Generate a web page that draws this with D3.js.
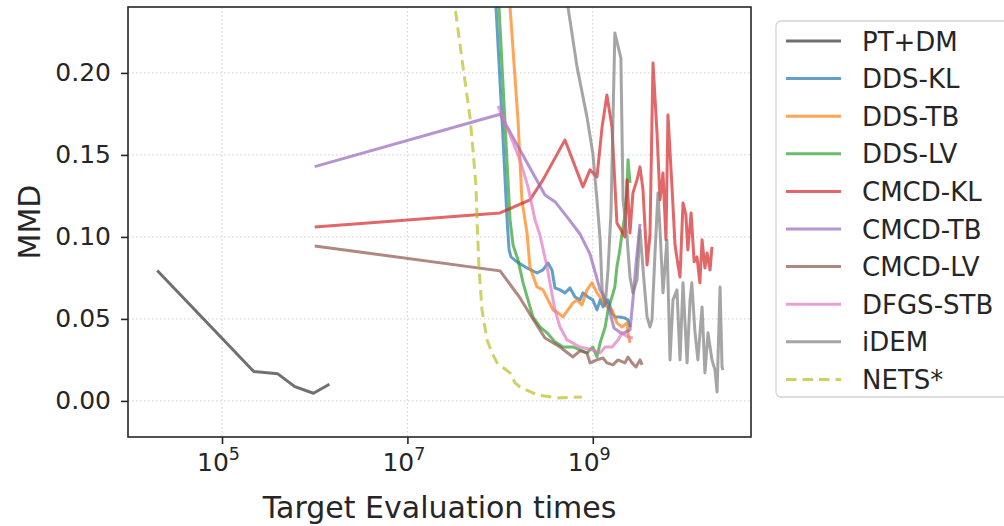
<!DOCTYPE html>
<html><head><meta charset="utf-8">
<script src="https://cdn.jsdelivr.net/npm/d3@7"></script>
<style>
html,body{margin:0;padding:0;background:#fff;}
text{font-family:"DejaVu Sans",sans-serif;fill:#262626;}
</style></head>
<body><svg id="c" width="1004" height="526"></svg>
<script>
// ---- data ----
const seriesNames = ["PT+DM","DDS-KL","DDS-TB","DDS-LV","CMCD-KL","CMCD-TB","CMCD-LV","DFGS-STB","iDEM","NETS*"];
const seriesColors = ["#333333","#1f77b4","#ff7f0e","#2ca02c","#d62728","#9467bd","#8c564b","#e377c2","#7f7f7f","#bcbd22"];
const xTickValues = [1e5, 1e7, 1e9];
const xTickExponents = ["5", "7", "9"];
const yTickValues = [0.00, 0.05, 0.10, 0.15, 0.20];
const yTickLabels = ["0.00", "0.05", "0.10", "0.15", "0.20"];

const ptdm = [[2.0e4,0.0795],[2.2e5,0.0179],[4.0e5,0.0165],[6.1e5,0.0087],[9.7e5,0.0047],[1.44e6,0.0102]];
const ddsKL = [[8.59e7,0.275],[9.03e7,0.2402],[1.05e8,0.1713],[1.19e8,0.1104],[1.25e8,0.0921],[1.31e8,0.0878],[1.52e8,0.0848],[1.95e8,0.0811],[2.50e8,0.0780],[2.90e8,0.0799],[3.29e8,0.0841],[3.63e8,0.0799],[3.91e8,0.0689],[4.43e8,0.0677],[5.01e8,0.0659],[5.68e8,0.0689],[6.43e8,0.0634],[7.28e8,0.0616],[7.83e8,0.0659],[8.87e8,0.0634],[1.00e9,0.0616],[1.11e9,0.0555],[1.20e9,0.0616],[1.29e9,0.0573],[1.46e9,0.0616],[1.61e9,0.0537],[1.73e9,0.0512],[1.96e9,0.0512],[2.22e9,0.0506],[2.40e9,0.0494],[2.52e9,0.0451]];
const ddsTB = [[1.22e8,0.275],[1.28e8,0.2402],[1.56e8,0.1713],[1.72e8,0.1226],[1.95e8,0.1024],[2.10e8,0.0817],[2.50e8,0.0695],[2.90e8,0.0677],[3.29e8,0.0616],[3.72e8,0.0555],[4.22e8,0.0537],[4.77e8,0.0512],[5.40e8,0.0555],[6.11e8,0.0598],[6.76e8,0.0616],[7.64e8,0.0585],[8.65e8,0.0677],[9.80e8,0.0720],[1.11e9,0.0659],[1.26e9,0.0616],[1.42e9,0.0573],[1.61e9,0.0555],[1.82e9,0.0476],[2.07e9,0.0451],[2.34e9,0.0476],[2.40e9,0.0415],[2.52e9,0.0354]];
const ddsLV = [[9.27e7,0.275],[9.73e7,0.2402],[1.28e8,0.1104],[1.38e8,0.0951],[1.56e8,0.0860],[1.77e8,0.0720],[2.00e8,0.0616],[2.26e8,0.0512],[2.69e8,0.0451],[3.21e8,0.0415],[3.91e8,0.0360],[4.77e8,0.0329],[6.11e8,0.0329],[7.28e8,0.0311],[8.65e8,0.0293],[1.00e9,0.0329],[1.11e9,0.0268],[1.20e9,0.0354],[1.36e9,0.0451],[1.46e9,0.0555],[1.61e9,0.0634],[1.73e9,0.0695],[1.82e9,0.0817],[1.96e9,0.0921],[2.07e9,0.1024],[2.22e9,0.1134],[2.34e9,0.1287],[2.40e9,0.1470],[2.52e9,0.1329]];
const cmcdKL = [[1e6,0.1061],[1.00e8,0.1146],[2.10e8,0.1226],[2.90e8,0.1348],[5.01e8,0.1591],[7.83e8,0.1305],[9.33e8,0.1409],[1.11e9,0.1366],[1.26e9,0.1671],[1.42e9,0.1866],[1.61e9,0.1671],[1.82e9,0.1085],[2.01e9,0.1043],[2.22e9,0.1000],[2.34e9,0.1348],[2.52e9,0.1024],[2.71e9,0.1268],[3.00e9,0.1348],[3.23e9,0.1427],[3.48e9,0.1287],[3.85e9,0.0829],[4.14e9,0.1012],[4.46e9,0.2061],[4.93e9,0.1634],[5.31e9,0.1226],[5.72e9,0.1390],[6.16e9,0.0982],[6.47e9,0.1744],[7.15e9,0.1305],[7.71e9,0.0951],[8.30e9,0.0829],[8.73e9,0.0756],[9.40e9,0.1207],[1.01e10,0.1134],[1.06e10,0.0921],[1.15e10,0.1146],[1.24e10,0.0848],[1.33e10,0.0878],[1.43e10,0.0720],[1.51e10,0.0982],[1.62e10,0.0811],[1.71e10,0.0902],[1.84e10,0.0799],[1.93e10,0.0939]];
const cmcdTB = [[1e6,0.1429],[1e8,0.1748],[1.64e8,0.1530],[3.05e8,0.1256],[3.91e8,0.1215],[5.27e8,0.1122],[7.28e8,0.1018],[9.33e8,0.0896],[1.20e9,0.0677],[1.46e9,0.0585],[1.69e9,0.0445],[2.07e9,0.0409],[2.52e9,0.0433],[2.71e9,0.0616],[2.92e9,0.0829],[3.23e9,0.1079]];
const cmcdLV = [[1e6,0.0945],[1.00e8,0.0793],[1.64e8,0.0628],[2.26e8,0.0500],[3.05e8,0.0384],[4.43e8,0.0329],[6.11e8,0.0268],[7.28e8,0.0305],[8.65e8,0.0293],[9.33e8,0.0232],[1.11e9,0.0250],[1.29e9,0.0262],[1.42e9,0.0232],[1.65e9,0.0220],[1.87e9,0.0250],[2.22e9,0.0232],[2.40e9,0.0268],[2.65e9,0.0232],[2.92e9,0.0207],[3.23e9,0.0250],[3.40e9,0.0220]];
const dfgsSTB = [[9.49e7,0.1799],[1.28e8,0.1622],[1.64e8,0.1470],[2.00e8,0.1305],[2.38e8,0.1104],[2.69e8,0.1012],[3.21e8,0.0817],[3.91e8,0.0555],[4.43e8,0.0451],[5.27e8,0.0372],[7.28e8,0.0329],[1.00e9,0.0311],[1.20e9,0.0293],[1.36e9,0.0329],[1.61e9,0.0329],[1.87e9,0.0372],[2.07e9,0.0415],[2.22e9,0.0402],[2.40e9,0.0390],[2.71e9,0.0384]];
const idem = [[4.43e8,0.2628],[5.40e8,0.2402],[6.76e8,0.2037],[8.65e8,0.1732],[1.00e9,0.1512],[1.11e9,0.1226],[1.20e9,0.0982],[1.26e9,0.0677],[1.36e9,0.0585],[1.46e9,0.0799],[1.57e9,0.1146],[1.73e9,0.2244],[2.01e9,0.2091],[2.12e9,0.1226],[2.34e9,0.1000],[2.52e9,0.0756],[2.71e9,0.0659],[3.00e9,0.0738],[3.23e9,0.1043],[3.56e9,0.0738],[3.85e9,0.0512],[4.14e9,0.0451],[4.35e9,0.0494],[4.69e9,0.0902],[5.05e9,0.1268],[5.31e9,0.1043],[5.72e9,0.0659],[6.31e9,0.0982],[6.81e9,0.0250],[7.33e9,0.0616],[8.09e9,0.0677],[8.73e9,0.0250],[9.40e9,0.0720],[1.04e10,0.0232],[1.12e10,0.0616],[1.17e10,0.0720],[1.26e10,0.0433],[1.36e10,0.0250],[1.51e10,0.0573],[1.62e10,0.0171],[1.75e10,0.0415],[1.93e10,0.0250],[2.08e10,0.0189],[2.19e10,0.0055],[2.36e10,0.0695],[2.48e10,0.0207],[2.54e10,0.0189]];
const nets = [[3.03e7,0.2476],[3.26e7,0.2402],[3.98e7,0.2037],[4.73e7,0.1732],[5.10e7,0.1530],[5.50e7,0.1305],[5.64e7,0.1104],[5.92e7,0.0817],[6.38e7,0.0555],[7.23e7,0.0372],[8.18e7,0.0293],[9.27e7,0.0232],[1.28e8,0.0171],[1.45e8,0.0110],[1.64e8,0.0085],[2.50e8,0.0037],[4.11e8,0.0018],[7.64e8,0.0024]];

const seriesData = [ptdm, ddsKL, ddsTB, ddsLV, cmcdKL, cmcdTB, cmcdLV, dfgsSTB, idem, nets];

// ---- layout ----
const L = 128, R = 751, T = 7, B = 437;
const svg = d3.select("#c");
const x = d3.scaleLog().domain([9.68e3, 5.09e10]).range([L, R]);
const y = d3.scaleLinear().domain([-0.022, 0.2402]).range([B, T]);

svg.append("defs").append("clipPath").attr("id","clip")
  .append("rect").attr("x",L).attr("y",T).attr("width",R-L).attr("height",B-T);

// grid
const grid = svg.append("g");
grid.selectAll(".gx").data(xTickValues).enter().append("line")
  .attr("x1",d=>x(d)).attr("x2",d=>x(d)).attr("y1",T).attr("y2",B)
  .attr("stroke","#cfcfcf").attr("stroke-width",1).attr("stroke-dasharray","1.5,2.5");
grid.selectAll(".gy").data(yTickValues).enter().append("line")
  .attr("x1",L).attr("x2",R).attr("y1",d=>y(d)).attr("y2",d=>y(d))
  .attr("stroke","#cfcfcf").attr("stroke-width",1).attr("stroke-dasharray","1.5,2.5");

// lines
const line = d3.line().x(d=>x(d[0])).y(d=>y(d[1]));
const lg = svg.append("g").attr("clip-path","url(#clip)");
seriesData.forEach((s,i)=>{
  lg.append("path").datum(s).attr("d",line)
    .attr("fill","none").attr("stroke",seriesColors[i]).attr("stroke-opacity",0.7)
    .attr("stroke-width",3).attr("stroke-linejoin","round")
    .attr("stroke-dasharray", seriesNames[i]==="NETS*" ? "10.5,6" : null);
});

// axes
const xAxis = svg.append("g").attr("transform",`translate(0,${B})`)
  .call(d3.axisBottom(x).tickValues(xTickValues).tickSize(7).tickPadding(6).tickFormat(()=>"" ));
xAxis.select(".domain").remove();
xAxis.selectAll(".tick line").attr("stroke","#262626").attr("stroke-width",1.6);
xAxis.selectAll(".tick text").each(function(d,i){
  const t = d3.select(this).attr("font-size",25).attr("y",34).attr("dy",null).attr("dx","-4");
  t.text("10");
  t.append("tspan").attr("font-size",17.5).attr("dy",-11).text(xTickExponents[i]);
});

const yAxis = svg.append("g").attr("transform",`translate(${L},0)`)
  .call(d3.axisLeft(y).tickValues(yTickValues).tickSize(7).tickPadding(10).tickFormat((d,i)=>yTickLabels[i]));
yAxis.select(".domain").remove();
yAxis.selectAll(".tick line").attr("stroke","#262626").attr("stroke-width",1.6);
yAxis.selectAll(".tick text").attr("font-size",25).attr("font-family","DejaVu Sans").attr("fill","#262626");
xAxis.selectAll(".tick text").attr("font-family","DejaVu Sans").attr("fill","#262626");

// frame
svg.append("rect").attr("x",L).attr("y",T).attr("width",R-L).attr("height",B-T)
  .attr("fill","none").attr("stroke","#262626").attr("stroke-width",1.6);

// axis labels
svg.append("text").attr("x",(L+R)/2).attr("y",518).attr("text-anchor","middle")
  .attr("font-size",30).text("Target Evaluation times");
svg.append("text").attr("transform",`translate(40,${(T+B)/2}) rotate(-90)`).attr("text-anchor","middle")
  .attr("font-size",30).text("MMD");

// legend
const leg = svg.append("g");
leg.append("rect").attr("x",776).attr("y",21).attr("width",240).attr("height",376)
  .attr("rx",5).attr("fill","#fff").attr("fill-opacity",0.8).attr("stroke","#d4d4d4").attr("stroke-width",1.3);
seriesNames.forEach((n,i)=>{
  const yy = 41 + i*37.6;
  leg.append("line").attr("x1",786).attr("x2",841).attr("y1",yy).attr("y2",yy)
    .attr("stroke",seriesColors[i]).attr("stroke-opacity",0.7).attr("stroke-width",3)
    .attr("stroke-dasharray", n==="NETS*" ? "10.5,6" : null);
  leg.append("text").attr("x",862).attr("y",yy+9.5).attr("font-size",26).text(n);
});
</script></body></html>
